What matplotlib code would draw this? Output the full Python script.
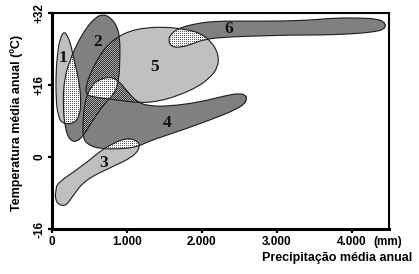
import numpy as np
import matplotlib
matplotlib.use('Agg')
import matplotlib.pyplot as plt
from matplotlib.path import Path

# contornos das zonas: precipitação média anual (mm) x temperatura média anual (ºC)
zona1_mm = [160, 213, 253, 293, 360, 387, 373, 293, 133, 80, 53, 53, 80, 107]
zona1_temp = [28.0, 26.7, 24.9, 21.6, 17.1, 12.7, 9.3, 7.4, 7.4, 9.3, 12.7, 19.3, 23.8, 26.2]

zona2_mm = [680, 787, 867, 907, 907, 893, 840, 707, 573, 453, 347, 240, 173, 147, 160, 240, 347, 467, 573]
zona2_temp = [31.8, 30.9, 29.1, 26.4, 21.6, 17.1, 14.2, 12.0, 8.9, 5.6, 3.4, 3.6, 6.4, 11.6, 17.1, 21.6, 25.6, 28.9, 30.9]

zona3_mm = [67, 373, 667, 773, 973, 1133, 1180, 1080, 800, 440, 267, 187, 80, 40, 53]
zona3_temp = [-5.8, -2.4, 1.6, 2.6, 4.2, 3.8, 2.2, 0.0, -2.2, -5.1, -8.9, -10.9, -10.6, -9.0, -7.4]

zona4_mm = [533, 640, 773, 880, 1000, 1133, 1307, 1573, 1973, 2307, 2507, 2600, 2587, 2440,
            2107, 1707, 1307, 1133, 907, 640, 480, 413, 413, 440]
zona4_temp = [16.0, 17.3, 17.8, 17.1, 14.7, 12.2, 11.3, 11.3, 12.2, 13.6, 14.2, 13.6, 12.0, 10.4,
              8.2, 5.8, 3.6, 2.2, 1.8, 1.8, 2.7, 4.2, 8.2, 12.7]

zona5_mm = [880, 1040, 1240, 1507, 1773, 1973, 2133, 2227, 2213, 2107, 1947, 1707, 1440, 1173,
            840, 573, 453, 453, 533, 640, 747]
zona5_temp = [26.7, 28.0, 28.7, 28.9, 28.4, 27.6, 25.6, 22.7, 19.8, 17.6, 15.6, 13.8, 12.4, 12.0,
              12.7, 13.3, 13.8, 16.0, 19.3, 22.7, 24.9]

zona6_mm = [1547, 1600, 1707, 1907, 2173, 2573, 3040, 3440, 3773, 4107, 4347, 4453, 4440, 4307,
            3973, 3573, 3173, 2773, 2373, 2040, 1867, 1733, 1600]
zona6_temp = [26.0, 27.6, 28.7, 29.6, 30.2, 30.2, 30.2, 30.4, 30.9, 30.9, 30.7, 29.8, 28.4, 27.8,
              27.3, 27.1, 27.1, 26.9, 26.7, 26.2, 25.1, 24.4, 24.4]

rotulos = ['1', '2', '3', '4', '5', '6']
rotulo_mm = [147, 613, 693, 1533, 1373, 2360]
rotulo_temp = [22.0, 25.6, -1.3, 7.6, 20.0, 28.4]

x_ticks = [0, 1000, 2000, 3000, 4000]
x_labels = ['0', '1.000', '2.000', '3.000', '4.000']
y_ticks = [-16, 0, 16, 32]
y_labels = ['-16', '0', '+16', '+32']

zonas = [(zona1_mm, zona1_temp), (zona2_mm, zona2_temp), (zona3_mm, zona3_temp),
         (zona4_mm, zona4_temp), (zona5_mm, zona5_temp), (zona6_mm, zona6_temp)]
claras = [True, False, True, False, True, False]

CLARO = np.array([192, 192, 192]) / 255
ESCURO = np.array([128, 128, 128]) / 255
BRANCO = np.array([1.0, 1.0, 1.0])
PONTO = np.array([90, 90, 90]) / 255
XADREZ_A = np.array([48, 48, 48]) / 255
XADREZ_B = np.array([176, 176, 176]) / 255


def contorno(xs, ys):
    # curva fechada suave (bezier quadratica pelos pontos medios)
    pts = np.column_stack([xs, ys]).astype(float)
    mids = (pts + np.roll(pts, -1, axis=0)) / 2
    verts = [mids[-1]]
    codes = [Path.MOVETO]
    for i in range(len(pts)):
        verts += [pts[i], mids[i]]
        codes += [Path.CURVE3, Path.CURVE3]
    verts.append(mids[-1])
    codes.append(Path.CLOSEPOLY)
    return Path(verts, codes)


fig = plt.figure(figsize=(4.19, 2.74), dpi=100)
ax = fig.add_axes([52 / 419, 45 / 274, 337 / 419, 216 / 274])
ax.set_xlim(0, 4500)
ax.set_ylim(-16, 32)

caminhos = [contorno(xs, ys) for xs, ys in zonas]

# preenchimento rasterizado com pontilhado nas sobreposicoes
bb = ax.get_window_extent()
nx, ny = int(round(bb.width)), int(round(bb.height))
jj, ii = np.meshgrid(np.arange(nx), np.arange(ny))
px = bb.x0 + (jj + 0.5) * bb.width / nx
py = bb.y1 - (ii + 0.5) * bb.height / ny
pts = np.column_stack([px.ravel(), py.ravel()])
m = [c.contains_points(pts, transform=ax.transData).reshape(ny, nx) for c in caminhos]
m1, m2, m3, m4, m5, m6 = m
cont = sum(k.astype(int) for k in m)

img = np.ones((ny, nx, 3))
for k, clara in zip(m, claras):
    img[k & (cont == 1)] = CLARO if clara else ESCURO

pont_claro = (m1 & m2) | (m3 & m4) | (m5 & m6) | (m2 & m4 & m5)
pont_escuro = (cont >= 2) & ~pont_claro
ponto = (ii % 2 == 0) & (jj % 2 == 0)
xadrez = (ii + jj) % 2 == 0
img[pont_claro] = BRANCO
img[pont_claro & ponto] = PONTO
img[pont_escuro & xadrez] = XADREZ_A
img[pont_escuro & ~xadrez] = XADREZ_B

ax.imshow(img, extent=(0, 4500, -16, 32), aspect='auto', interpolation='nearest', zorder=1)

for c in caminhos:
    ax.add_patch(matplotlib.patches.PathPatch(c, facecolor='none', edgecolor='#1e1e1e',
                                              lw=0.8, zorder=2))

for r, xm, yt in zip(rotulos, rotulo_mm, rotulo_temp):
    ax.text(xm, yt, r, ha='center', va='center', fontsize=12.5, fontweight='bold',
            family='Liberation Serif', color='#111111', zorder=3)

for lado in ['left', 'bottom']:
    ax.spines[lado].set_linewidth(2.2)
for lado in ['top', 'right']:
    ax.spines[lado].set_linewidth(1.5)

ax.set_xticks(x_ticks)
ax.set_xticklabels(x_labels, fontsize=8.5, fontweight='bold', family='Liberation Sans')
ax.set_yticks(y_ticks)
ax.set_yticklabels(y_labels, fontsize=8.5, fontweight='bold', family='Liberation Sans',
                   rotation=90, va='center')
ax.tick_params(axis='both', direction='out', length=3, width=1.6, pad=2)

ax.annotate('(mm)', xy=(4000, 0), xycoords=('data', 'axes fraction'), xytext=(15.5, -5),
            textcoords='offset points', ha='left', va='top', fontsize=8.5,
            fontweight='bold', family='Liberation Sans')

ax.set_xlabel('Precipitação média anual', fontsize=9, fontweight='bold', family='Liberation Sans',
              ha='right')
ax.xaxis.set_label_coords(1.068, -0.105)
ax.set_ylabel('Temperatura média anual (ºC)', fontsize=9, fontweight='bold',
              family='Liberation Sans')
ax.yaxis.set_label_coords(-0.085, 0.49)

fig.savefig('out.png', dpi=100)
